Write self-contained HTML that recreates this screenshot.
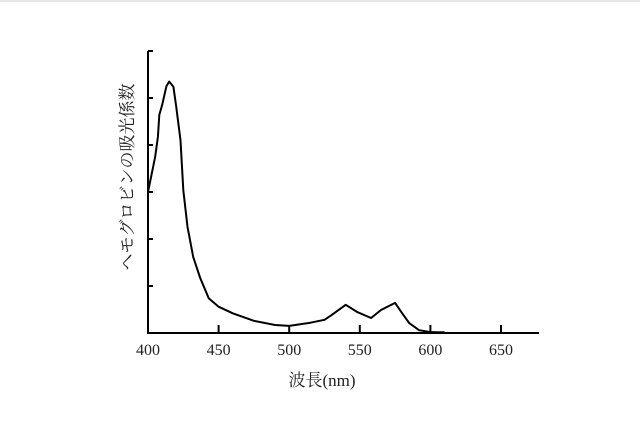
<!DOCTYPE html>
<html><head><meta charset="utf-8"><style>
body{margin:0;background:#fff;}
svg text{font-family:"Liberation Serif","Noto Serif CJK SC",serif;fill:#222;}
</style></head><body>
<svg width="640" height="430" viewBox="0 0 640 430">
<line x1="0" y1="1" x2="640" y2="1" stroke="#ccc" stroke-width="1"/>
<g id="axes"></g>
<path id="curve" fill="none" stroke="#000" stroke-width="2"/>
<text x="322" y="386" font-size="17" text-anchor="middle">波長(nm)</text>
<text transform="translate(133,177) rotate(-90)" font-size="17" text-anchor="middle">ヘモグロビンの吸光係数</text>
</svg>
<script>
const wavelengths=[400,405,407,408,410,413,415,418,420,423,425,428,432,437,443,450,460,475,490,500,515,525,530,540,548,558,565,575,580,585,592,600,610];
const absorbance=[3.0,3.74,4.17,4.64,4.85,5.25,5.35,5.24,4.82,4.1,3.04,2.26,1.62,1.17,0.74,0.56,0.42,0.26,0.17,0.15,0.22,0.28,0.38,0.6,0.45,0.32,0.49,0.64,0.42,0.21,0.06,0.02,0];
const xTicks=[400,450,500,550,600,650];
const yTicks=[0,1,2,3,4,5,6];
const X0=148,PXNM=1.412,Y0=333,PXU=47;
const xs=v=>X0+(v-400)*PXNM, ys=v=>Y0-v*PXU;
const NS="http://www.w3.org/2000/svg";
const ax=document.getElementById('axes');
function mk(t,a){const e=document.createElementNS(NS,t);for(const k in a)e.setAttribute(k,a[k]);ax.appendChild(e);return e;}
let l=mk('line',{x1:X0,y1:Y0,x2:539,y2:Y0,stroke:'#000','stroke-width':2});


l=mk('line',{x1:X0,y1:Y0+1,x2:X0,y2:ys(6),stroke:'#000','stroke-width':2});


xTicks.forEach(t=>{
 const k=mk('line',{x1:xs(t),y1:Y0,x2:xs(t),y2:Y0-8,stroke:'#000','stroke-width':2});
 
 
 const tx=mk('text',{x:xs(t),y:Y0+22,'font-size':16,'text-anchor':'middle'});
 tx.textContent=t;
 
 
});
yTicks.forEach(t=>{
 const k=mk('line',{x1:X0,y1:ys(t),x2:X0+5,y2:ys(t),stroke:'#000','stroke-width':2});
 
 
});
let d='';
wavelengths.forEach((w,i)=>{d+=(i?'L':'M')+xs(w).toFixed(1)+','+ys(absorbance[i]).toFixed(1);});
const c=document.getElementById('curve');c.setAttribute('d',d);c.setAttribute('stroke-linejoin','round');
mk('line',{x1:xs(600),y1:Y0-1,x2:xs(610),y2:Y0-1,stroke:'#000','stroke-width':1.5});
</script>
</body></html>
